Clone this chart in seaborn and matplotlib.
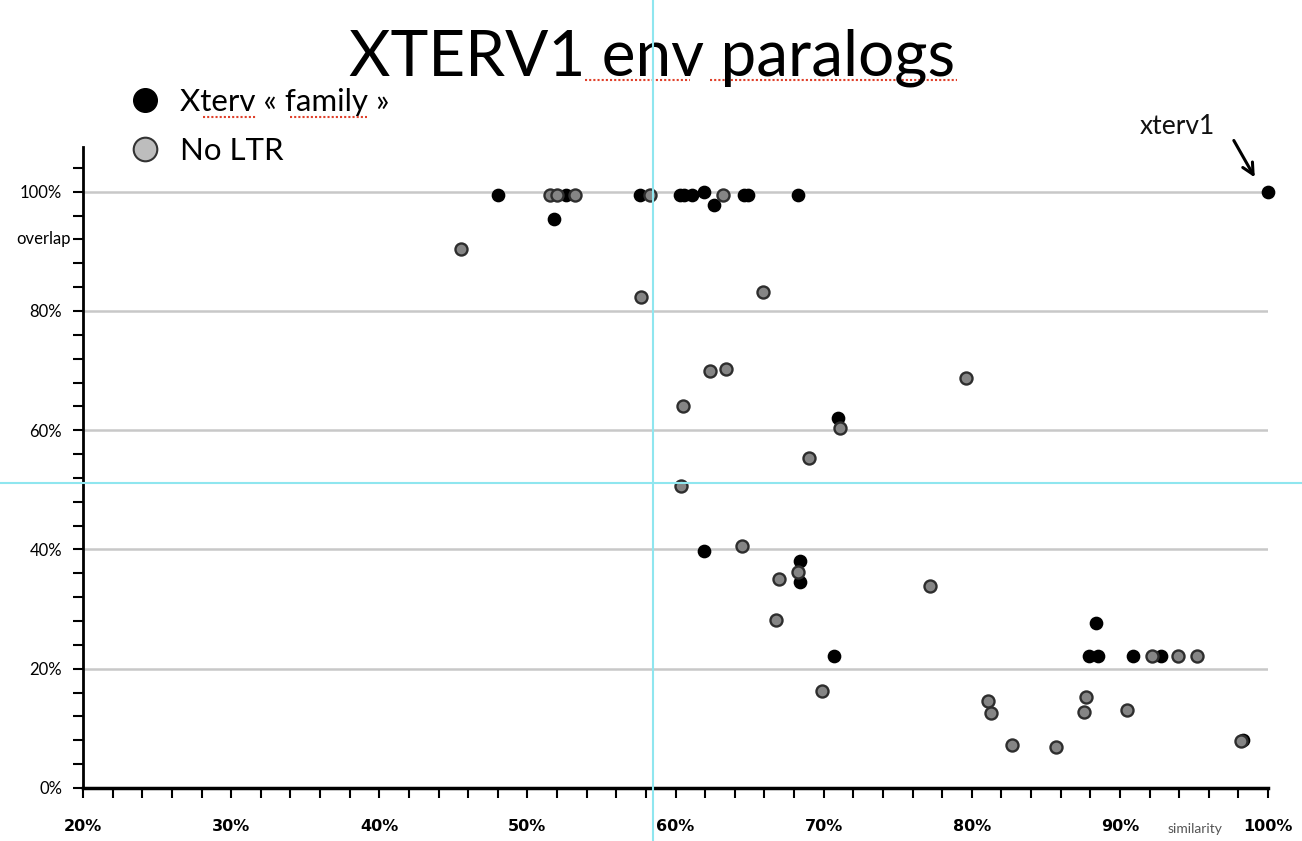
import numpy as np
import pandas as pd
import matplotlib.pyplot as plt
import seaborn as sns
from matplotlib.lines import Line2D
from matplotlib.ticker import MultipleLocator, FuncFormatter

# values: similarity (%) vs overlap (%)
family_sim = [48.0, 51.8, 52.6, 57.6, 60.3, 60.6, 61.1, 61.9, 62.6, 64.6, 64.9, 68.3,
              71.0, 61.9, 68.4, 68.4, 70.7, 88.4, 87.9, 88.5, 90.9, 92.8, 98.3, 100.0]
family_ovl = [99.4, 95.4, 99.4, 99.4, 99.4, 99.4, 99.4, 100.0, 97.7, 99.4, 99.4, 99.4,
              62.0, 39.8, 38.0, 34.6, 22.1, 27.7, 22.1, 22.1, 22.1, 22.1, 8.0, 100.0]
noltr_sim = [45.5, 51.5, 52.0, 53.2, 58.3, 57.7, 63.2, 65.9, 62.3, 63.4,
             79.6, 60.5, 71.1, 69.0, 60.4, 64.5, 68.3, 67.0, 66.8, 69.9,
             77.2, 81.1, 81.3, 82.7, 85.7, 87.7, 87.6, 90.5, 92.2, 93.9,
             95.2, 98.2]
noltr_ovl = [90.4, 99.4, 99.4, 99.4, 99.4, 82.4, 99.4, 83.2, 70.0, 70.3,
             68.8, 64.1, 60.3, 55.4, 50.6, 40.6, 36.2, 35.1, 28.1, 16.2,
             33.9, 14.6, 12.5, 7.2, 6.8, 15.2, 12.8, 13.1, 22.1, 22.1,
             22.1, 7.8]

labels = ["Xterv « family »", "No LTR"]

df_fam = pd.DataFrame({"similarity": family_sim, "overlap": family_ovl})
df_no = pd.DataFrame({"similarity": noltr_sim, "overlap": noltr_ovl})

sns.set_style("white")
plt.rcParams["font.family"] = ["Lato", "DejaVu Sans"]
plt.rcParams["text.color"] = "black"
plt.rcParams["xtick.color"] = "black"
plt.rcParams["ytick.color"] = "black"
plt.rcParams["axes.labelcolor"] = "black"

fig = plt.figure(figsize=(13.02, 8.41), dpi=100)
ax = fig.add_axes([83 / 1302, 1 - 788 / 841, (1268 - 83) / 1302, (788 - 147) / 841])

sns.scatterplot(data=df_fam, x="similarity", y="overlap", ax=ax, color="black",
                edgecolor="black", s=75, linewidth=1.2, clip_on=False, zorder=3)
sns.scatterplot(data=df_no, x="similarity", y="overlap", ax=ax, color="#858585",
                edgecolor="#2e2e2e", s=75, linewidth=1.7, clip_on=False, zorder=4)

ax.set_xlim(20, 100)
ax.set_ylim(0, 107.5)
ax.set_xlabel("")
ax.set_ylabel("")

ax.xaxis.set_major_locator(MultipleLocator(10))
ax.xaxis.set_minor_locator(MultipleLocator(2))
ax.yaxis.set_major_locator(MultipleLocator(20))
ax.yaxis.set_minor_locator(MultipleLocator(4))
pct = FuncFormatter(lambda v, p: f"{v:.0f}%")
ax.xaxis.set_major_formatter(pct)
ax.yaxis.set_major_formatter(pct)

ax.tick_params(axis="both", which="both", direction="out", length=7, width=1.5,
               color="black", bottom=True, left=True)
ax.tick_params(axis="x", which="major", pad=15)
ax.tick_params(axis="y", which="major", pad=8)
for t in ax.get_xticklabels():
    t.set_fontfamily("DejaVu Sans")
    t.set_fontweight("bold")
    t.set_fontsize(11.5)
    t.set_color("black")
for t in ax.get_yticklabels():
    t.set_fontsize(12)
    t.set_color("black")

ax.grid(False)
for v in [20, 40, 60, 80, 100]:
    ax.axhline(v, color="#c8c8c8", lw=1.8, zorder=1)

sns.despine(ax=ax)
ax.spines["left"].set_linewidth(2)
ax.spines["bottom"].set_linewidth(2.5)
ax.spines["left"].set_color("black")
ax.spines["bottom"].set_color("black")

# axis captions placed as on the slide
fig.text(71 / 1302, 1 - 239 / 841, "overlap", ha="right", va="center", fontsize=12)
fig.text(1195 / 1302, 1 - 829 / 841, "similarity", ha="center", va="center",
         fontsize=10, color="#555555")

# annotation for xterv1
ax.annotate("", xy=(99.2, 102.0), xytext=(97.6, 109.0),
            arrowprops=dict(arrowstyle="->", color="black", lw=2.2, mutation_scale=20),
            annotation_clip=False)
ax.text(93.9, 111.0, "xterv1", ha="center", va="center", fontsize=19,
        color="#111111", clip_on=False)

# title
fig.text(652 / 1302, 1 - 58 / 841, "XTERV1 env paralogs", ha="center", va="center",
         fontsize=46, color="black")

# legend
handles = [
    Line2D([], [], marker="o", ls="", markersize=17, markerfacecolor="black",
           markeredgecolor="black"),
    Line2D([], [], marker="o", ls="", markersize=17, markerfacecolor="#bdbdbd",
           markeredgecolor="#333333", markeredgewidth=1.5),
]
fig.legend(handles, labels, loc="upper left", bbox_to_anchor=(114 / 1302, 1 - 88 / 841),
           frameon=False, fontsize=22.5, labelspacing=0.68, handletextpad=0.1,
           borderpad=0, borderaxespad=0)

# red spell-check underlines
for x0, x1, y in [(585, 690, 80), (710, 957, 80), (203, 257, 117), (290, 367, 117)]:
    fig.add_artist(Line2D([x0 / 1302, x1 / 1302], [1 - y / 841] * 2, color="#e0402a",
                          lw=1.5, ls=(0, (1, 1))))

# cyan guide lines
fig.add_artist(Line2D([653 / 1302] * 2, [0, 1], color="#8fe6ef", lw=1.5, zorder=10))
fig.add_artist(Line2D([0, 1], [1 - 483 / 841] * 2, color="#8fe6ef", lw=1.5, zorder=10))

fig.savefig("out.png", dpi=100)
